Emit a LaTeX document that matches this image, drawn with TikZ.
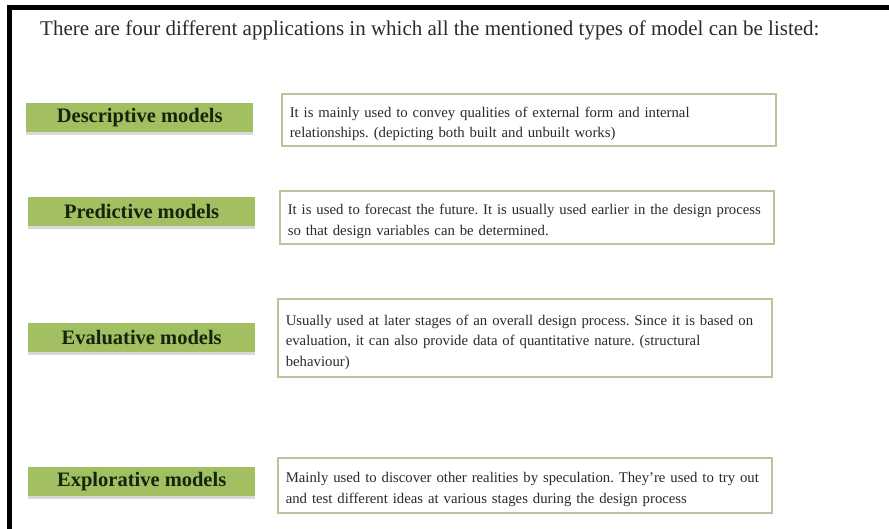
\documentclass[tikz,border=0pt]{standalone}
\usepackage{fontspec}
\setmainfont{Liberation Serif}
\usetikzlibrary{shadows}
\definecolor{labelgreen}{HTML}{A2BF62}
\definecolor{labeltext}{HTML}{15240A}
\definecolor{boxline}{HTML}{BCC49E}
\definecolor{bodytext}{HTML}{2A2A2A}
\tikzset{
  modellabel/.style={anchor=north west, fill=labelgreen, inner sep=0pt,
    minimum width=227pt, minimum height=29pt, text=labeltext,
    font=\fontsize{20.5}{24}\selectfont\bfseries,
    drop shadow={shadow xshift=0pt, shadow yshift=-3pt, opacity=0.3, fill=gray}},
  % a tall strut on the first line lowers the text block a little in its box
  descbox/.style={anchor=north west, draw=boxline, line width=1.6pt, fill=white,
    inner xsep=8pt, inner ysep=0pt, minimum width=494pt, text width=478pt,
    align=left, text=bodytext, font=\fontsize{14.75}{20.5}\selectfont\frenchspacing,
    execute at begin node={\rule{0pt}{19pt}}},
  frameline/.style={fill=black}
}
\begin{document}
\begin{tikzpicture}[x=1pt,y=-1pt]
  \useasboundingbox (0,0) rectangle (889,529);
  % frame: top and left bars
  \fill[frameline] (7,5) rectangle (889,10);
  \fill[frameline] (7,5) rectangle (12,529);

  \node (title) [anchor=base west, font=\fontsize{21}{24}\selectfont, text=bodytext, inner sep=0pt]
    at (40,36) {There are four different applications in which all the mentioned types of model can be listed:};

  % model names
  \node (descL) [modellabel] at (26,103) {Descriptive models};
  \node (predL) [modellabel] at (28,197) {Predictive models};
  \node (evalL) [modellabel] at (28,323) {Evaluative models};
  \node (explL) [modellabel] at (28,467) {Explorative models};

  % explanations
  \node (descT) [descbox, minimum height=52pt] at (281,93)
    {It is mainly used to convey qualities of external form and internal\\relationships. (depicting both built and unbuilt works)};
  \node (predT) [descbox, minimum height=53pt] at (279,190)
    {It is used to forecast the future. It is usually used earlier in the design process\\so that design variables can be determined.};
  \node (evalT) [descbox, minimum height=78pt] at (277,298)
    {Usually used at later stages of an overall design process. Since it is based on\\evaluation, it can also provide data of quantitative nature. (structural\\behaviour)};
  \node (explT) [descbox, minimum height=55pt] at (277,457)
    {Mainly used to discover other realities by speculation. They're used to try out\\and test different ideas at various stages during the design process};
\end{tikzpicture}
\end{document}
